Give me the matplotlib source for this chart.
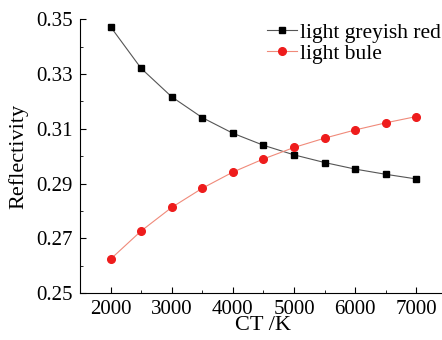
import matplotlib.pyplot as plt
from matplotlib.ticker import MultipleLocator

# colour temperature (K) and reflectivity of the two samples
ct = [2000, 2500, 3000, 3500, 4000, 4500, 5000, 5500, 6000, 6500, 7000]
greyish_red = [0.3473, 0.3321, 0.3217, 0.3141, 0.3084, 0.3040, 0.3005, 0.2977, 0.2953, 0.2934, 0.2917]
light_blue = [0.2624, 0.2727, 0.2813, 0.2883, 0.2942, 0.2990, 0.3032, 0.3066, 0.3096, 0.3122, 0.3145]
yticks = [0.25, 0.27, 0.29, 0.31, 0.33, 0.35]
yminor = [0.26, 0.28, 0.30, 0.32, 0.34]

plt.rcParams['font.family'] = ['Liberation Serif']
plt.rcParams['font.size'] = 15

fig = plt.figure(figsize=(4.42, 3.40), dpi=100)
ax = fig.add_axes([0.181, 0.138, 0.830, 0.805])

ax.plot(ct, greyish_red, color='#555555', lw=0.8, marker='s', ms=5,
        mfc='black', mec='black', label='light greyish red')
ax.plot(ct, light_blue, color='#f08a7a', lw=0.8, marker='o', ms=5.5,
        mfc='#ee1c1c', mec='#ee1c1c', label='light bule')

ax.set_xlim(1500, 7500)
ax.set_ylim(0.25, 0.35)
ax.xaxis.set_major_locator(MultipleLocator(1000))
ax.xaxis.set_minor_locator(MultipleLocator(500))
ax.set_yticks(yticks)
ax.set_yticks(yminor, minor=True)
ax.tick_params(which='both', direction='in', top=False, right=False, pad=5)
ax.tick_params(which='major', length=4)
ax.tick_params(which='minor', length=2.5)
ax.yaxis.set_major_formatter(plt.FormatStrFormatter('%.2f'))
ax.spines['top'].set_visible(False)
ax.spines['right'].set_visible(False)

ax.set_xlabel('CT /K', fontsize=16, labelpad=-2)
ax.set_ylabel('Reflectivity', fontsize=16, labelpad=6)

ax.legend(loc='upper left', bbox_to_anchor=(0.485, 1.02), frameon=False,
          handlelength=1.4, handletextpad=0.15, labelspacing=0.05,
          borderaxespad=0, fontsize=15.5)

fig.savefig('out.png', dpi=100)
